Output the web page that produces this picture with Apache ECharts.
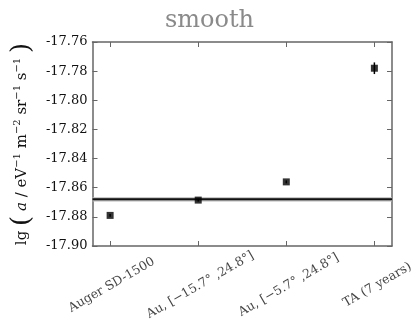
<!DOCTYPE html>
<html>
<head>
<meta charset="utf-8">
<script src="https://cdn.jsdelivr.net/npm/echarts@6/dist/echarts.min.js"></script>
<style>
  html, body { margin: 0; padding: 0; background: #fff; }
  #chart { width: 419px; height: 321px; }
</style>
</head>
<body>
<div id="chart"></div>
<script>
// Experiments compared
const categories = ['Auger SD-1500', 'Au, [\u221215.7\u00b0 ,24.8\u00b0]', 'Au, [\u22125.7\u00b0 ,24.8\u00b0]', 'TA (7 years)'];
// lg(a) per experiment and its uncertainty
const lgA = [-17.879, -17.8685, -17.856, -17.778];
const lgAErr = [0.001, 0.001, 0.001, 0.004];
// Combined reference level and its band
const refLevel = -17.868;
const refBand = [-17.8694, -17.8666];
// Axis ticks
const xTickPos = [0, 1, 2, 3];
const yMin = -17.90, yMax = -17.76, yStep = 0.02;

const FONT = 'DejaVu Serif';
const frameColor = '#666';

const chart = echarts.init(document.getElementById('chart'), null, { renderer: 'canvas' });

const pts = lgA.map((v, i) => [i, v]);
const errs = lgA.map((v, i) => [i, v - lgAErr[i], v + lgAErr[i]]);
// one anchor per category in the strip below the plot
const labelAnchors = xTickPos.map(i => [i, 0.5]);

const xRange = { type: 'value', min: -0.2, max: 3.2 };
const xCommon = Object.assign({}, xRange, {
  axisLine: { show: true, onZero: false, lineStyle: { color: frameColor, width: 1.5 } },
  splitLine: { show: false },
  axisLabel: { show: false },
  axisTick: { show: true, inside: true, length: 5, lineStyle: { color: frameColor }, customValues: xTickPos }
});
const yCommon = {
  type: 'value', min: yMin, max: yMax, interval: yStep,
  axisLine: { show: true, onZero: false, lineStyle: { color: frameColor, width: 1.5 } },
  splitLine: { show: false },
  axisTick: { show: true, inside: true, length: 5, lineStyle: { color: frameColor } }
};
const hiddenAxis = { show: false, splitLine: { show: false } };

chart.setOption({
  animation: false,
  backgroundColor: '#fff',
  title: {
    text: 'smooth', left: 'center', top: 4,
    textStyle: { fontFamily: FONT, fontSize: 24, fontWeight: 'normal', color: '#8a8a8a' }
  },
  grid: [
    { left: 91, right: 27, top: 42, bottom: 75 },
    // strip that carries the slanted category names
    { left: 94, right: 24, top: 280, height: 10 }
  ],
  xAxis: [
    Object.assign({}, xCommon, { gridIndex: 0, position: 'bottom' }),
    Object.assign({}, xCommon, { gridIndex: 0, position: 'top' }),
    Object.assign({}, xRange, hiddenAxis, { gridIndex: 1 })
  ],
  yAxis: [
    Object.assign({}, yCommon, {
      gridIndex: 0,
      position: 'left',
      axisLabel: {
        formatter: v => v.toFixed(2), margin: 5,
        fontFamily: FONT, fontSize: 13, color: '#111'
      },
      name: '{t|lg }{p|(}{t| }{i|a}{t| / eV}{s|\u22121}{t| m}{s|\u22122}{t| sr}{s|\u22121}{t| s}{s|\u22121}{t| }{p|)}',
      nameLocation: 'middle', nameGap: 56, nameRotate: 90,
      nameTextStyle: {
        rich: {
          p: { fontFamily: FONT, fontSize: 26, lineHeight: 28, color: '#111', verticalAlign: 'middle' },
          t: { fontFamily: FONT, fontSize: 15, lineHeight: 28, color: '#111', verticalAlign: 'middle' },
          i: { fontFamily: FONT, fontSize: 15, fontStyle: 'italic', lineHeight: 28, color: '#111', verticalAlign: 'middle' },
          s: { fontFamily: FONT, fontSize: 10, lineHeight: 10, color: '#111', verticalAlign: 'top', padding: [4, 0, 0, 0] }
        }
      }
    }),
    Object.assign({}, yCommon, { gridIndex: 0, position: 'right', axisLabel: { show: false } }),
    Object.assign({ type: 'value', min: 0, max: 1 }, hiddenAxis, { gridIndex: 1 })
  ],
  series: [
    {
      // reference level: grey band with a solid line through it
      type: 'custom', xAxisIndex: 0, yAxisIndex: 0, silent: true, clip: true,
      data: [[refBand[0], refBand[1], refLevel]],
      renderItem: (params, api) => {
        const cs = params.coordSys;
        const yLo = api.coord([0, api.value(0)])[1];
        const yHi = api.coord([0, api.value(1)])[1];
        const yMid = api.coord([0, api.value(2)])[1];
        return {
          type: 'group',
          children: [
            { type: 'rect', shape: { x: cs.x, y: yHi, width: cs.width, height: yLo - yHi },
              style: { fill: '#b8b8b8' } },
            { type: 'line', shape: { x1: cs.x, y1: yMid, x2: cs.x + cs.width, y2: yMid },
              style: { stroke: '#111', lineWidth: 2 } }
          ]
        };
      },
      z: 2
    },
    {
      type: 'custom', xAxisIndex: 0, yAxisIndex: 0, data: errs, silent: true,
      renderItem: (params, api) => {
        const lo = api.coord([api.value(0), api.value(1)]);
        const hi = api.coord([api.value(0), api.value(2)]);
        return { type: 'line', shape: { x1: lo[0], y1: lo[1], x2: hi[0], y2: hi[1] },
                 style: { stroke: '#000', lineWidth: 1.5 } };
      },
      z: 3
    },
    {
      type: 'scatter', xAxisIndex: 0, yAxisIndex: 0, data: pts,
      symbol: 'rect', symbolSize: 7, itemStyle: { color: '#000' }, z: 4
    },
    {
      // slanted category names under the bottom axis
      type: 'scatter', xAxisIndex: 2, yAxisIndex: 2, data: labelAnchors,
      symbolSize: 1, itemStyle: { color: 'rgba(0,0,0,0)' }, silent: true, clip: false, z: 5,
      label: {
        show: true, position: 'inside', rotate: 30,
        align: 'center', verticalAlign: 'middle',
        formatter: p => categories[p.dataIndex],
        fontFamily: FONT, fontSize: 12.5, color: '#111'
      },
      labelLayout: { hideOverlap: false }
    }
  ]
});
</script>
</body>
</html>
